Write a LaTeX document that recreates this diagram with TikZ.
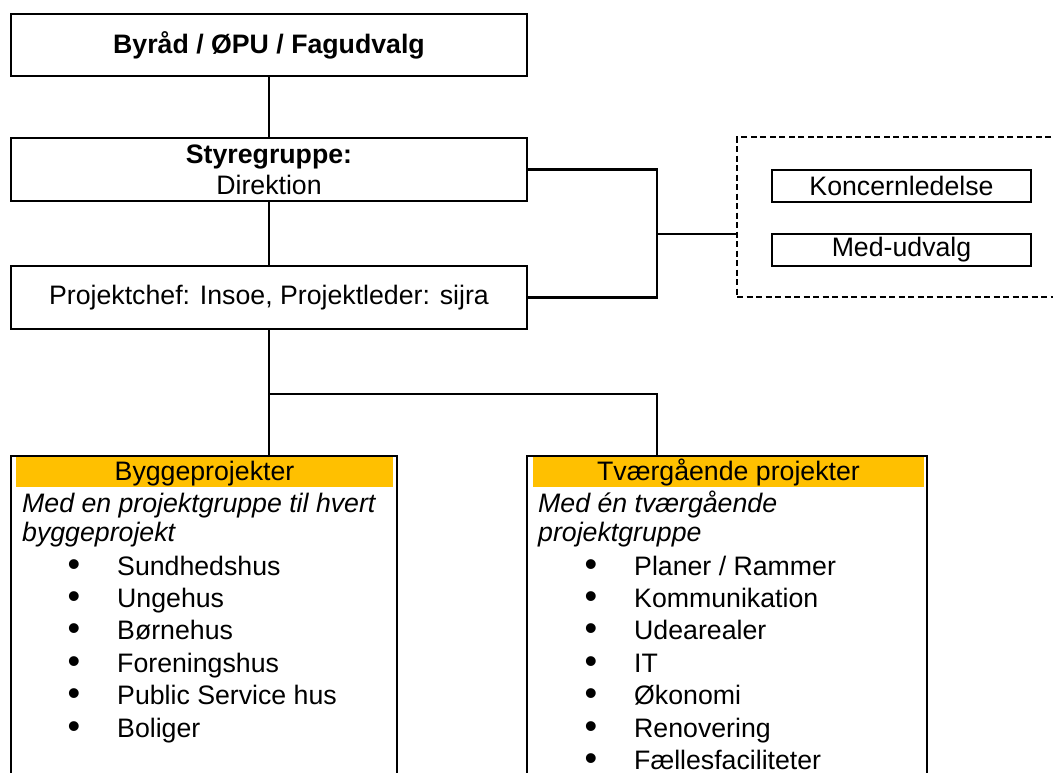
\documentclass[tikz,border=0pt]{standalone}
\usepackage{fontspec}
\setmainfont{Liberation Sans}
\definecolor{hdrc}{HTML}{FFC000}
\begin{document}
\begin{tikzpicture}[x=1pt,y=-1pt,
  every node/.style={font=\fontsize{26.7}{31}\selectfont},
  box/.style={draw,line width=2.3pt,inner sep=0pt,align=center},
  dashbox/.style={draw,line width=2.3pt,inner sep=0pt,dash pattern=on 6pt off 3.5pt},
  conn/.style={line width=2.3pt},
  hdr/.style={fill=hdrc,inner sep=0pt,minimum height=30,text height=23,text depth=7},
  txt/.style={anchor=base west,inner sep=0pt},
  bul/.style={anchor=base,inner sep=0pt,text height=13pt,text depth=0pt,font=\fontsize{36}{30}\selectfont}]
\useasboundingbox (0,0) rectangle (1053,772);
% upper boxes
\node[box,minimum width=516,minimum height=62] (top) at (269,45) {\bfseries Byråd / ØPU / Fagudvalg};
\node[box,minimum width=516,minimum height=63] (styre) at (269,169.5) {\textbf{Styregruppe:}\\Direktion};
\node[box,minimum width=516,minimum height=63] (proj) at (269,297.5) {Projektchef: Insoe, Projektleder: sijra};
% dashed group
\node[dashbox,minimum width=343,minimum height=160] (grp) at (908.5,217) {};
\node[box,minimum width=259,minimum height=32] (kon) at (901.5,186) {Koncernledelse};
\node[box,minimum width=259,minimum height=32] (med) at (901.5,250) {Med-udvalg};
% lower boxes
\node[box,minimum width=386,minimum height=344] (lbox) at (204,628) {};
\node[box,minimum width=400,minimum height=344] (rbox) at (727,628) {};
\node[hdr,minimum width=377] (lhead) at (204.5,472) {Byggeprojekter};
\node[hdr,minimum width=391] (rhead) at (728.5,472) {Tværgående projekter};
\node[txt] (li1) at (22,512) {\itshape Med en projektgruppe til hvert};
\node[txt] (li2) at (22,541) {\itshape byggeprojekt};
\node[txt] (ri1) at (538,512) {\itshape Med én tværgående};
\node[txt] (ri2) at (538,541) {\itshape projektgruppe};
\foreach \t [count=\i] in {Sundhedshus,Ungehus,Børnehus,Foreningshus,Public Service hus,Boliger} {
  \node[bul] (lb\i) at (74,{576+32.4*(\i-1)}) {\textbullet};
  \node[txt] (lt\i) at (117,{575+32.4*(\i-1)}) {\t};
}
\foreach \t [count=\i] in {Planer / Rammer,Kommunikation,Udearealer,IT,Økonomi,Renovering,Fællesfaciliteter} {
  \node[bul] (rb\i) at (591,{576+32.4*(\i-1)}) {\textbullet};
  \node[txt] (rt\i) at (634,{575+32.4*(\i-1)}) {\t};
}
% connectors
\coordinate (jr) at (657,234);
\coordinate (jb) at (269,394);
\coordinate (jb2) at (657,394);
\draw[conn] (top.south) -- (styre.north);
\draw[conn] (styre.south) -- (proj.north);
\draw[conn] (styre.east) -| (jr) |- (proj.east);
\draw[conn] (jr) -- (jr -| grp.west);
\draw[conn] (proj.south) -- (jb) -- (jb2) -- (jb2 |- rbox.north);
\draw[conn] (jb) -- (jb |- lbox.north);
\end{tikzpicture}
\end{document}
